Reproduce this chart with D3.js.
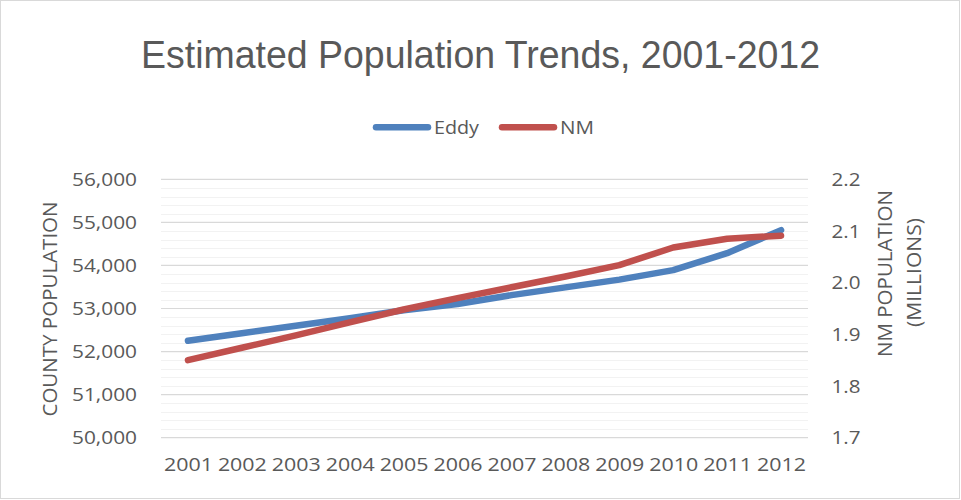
<!DOCTYPE html>
<html><head><meta charset="utf-8">
<script src="https://cdn.jsdelivr.net/npm/d3@7"></script>
<style>body{margin:0;background:#fff;} text{font-family:"Open Sans",sans-serif;fill:#595959;}</style>
</head><body>
<svg id="c" width="961" height="500"></svg>
<script>
const years = ["2001","2002","2003","2004","2005","2006","2007","2008","2009","2010","2011","2012"];
const eddy = [52250, 52425, 52600, 52775, 52960, 53105, 53310, 53490, 53670, 53890, 54285, 54820];
const nm = [1.850, 1.874, 1.898, 1.923, 1.948, 1.970, 1.991, 2.012, 2.034, 2.068, 2.085, 2.091];
const leftTicks = [50000, 51000, 52000, 53000, 54000, 55000, 56000];
const rightTicks = [1.7, 1.8, 1.9, 2.0, 2.1, 2.2];
const seriesNames = ["Eddy", "NM"];
const colors = ["#4f81bd", "#c0504d"];

const svg = d3.select("#c");
svg.append("rect").attr("x",0.5).attr("y",0.5).attr("width",959).attr("height",498)
  .attr("fill","#fff").attr("stroke","#d9d9d9");

const L = 161, R = 808, T = 179.3, B = 437.7;
const x = d3.scalePoint().domain(years).range([L, R]).padding(0.5);
const yL = d3.scaleLinear().domain([50000, 56000]).range([B, T]);
const yR = d3.scaleLinear().domain([1.7, 2.2]).range([B, T]);

function fit(sel, perChar) {
  sel.each(function() {
    const t = d3.select(this);
    const n = t.text().length;
    t.attr("textLength", perChar(t.text())).attr("lengthAdjust", "spacingAndGlyphs");
  });
}

// minor gridlines
const minor = d3.range(50000, 56001, 200).filter(v => v % 1000 !== 0);
svg.append("g").selectAll("line").data(minor).join("line")
  .attr("x1", L).attr("x2", R).attr("y1", d => Math.round(yL(d))+0.5).attr("y2", d => Math.round(yL(d))+0.5)
  .attr("stroke", "#f2f2f2").attr("stroke-width", 1);
svg.append("g").selectAll("line").data(leftTicks).join("line")
  .attr("x1", L).attr("x2", R).attr("y1", d => yL(d)).attr("y2", d => yL(d))
  .attr("stroke", "#d9d9d9").attr("stroke-width", 1.2);

// axes
const axL = svg.append("g").attr("transform", `translate(${L},0)`)
  .call(d3.axisLeft(yL).tickValues(leftTicks).tickFormat(d3.format(",")).tickSize(0).tickPadding(24));
const axR = svg.append("g").attr("transform", `translate(${R},0)`)
  .call(d3.axisRight(yR).tickValues(rightTicks).tickFormat(d3.format(".1f")).tickSize(0).tickPadding(23.5));
const axB = svg.append("g").attr("transform", `translate(0,${B})`)
  .call(d3.axisBottom(x).tickSize(0).tickPadding(20));
[axL, axR, axB].forEach(a => {
  a.select(".domain").remove();
  a.selectAll("text").style("font-size", "19px").attr("fill", "#595959").style("font-family","'Open Sans'");
});
axL.selectAll("text").call(fit, s => 65);
axR.selectAll("text").call(fit, s => 29);
axB.selectAll("text").call(fit, s => 49);

// lines
const lineL = d3.line().x((d,i) => x(years[i])).y(d => yL(d));
const lineR = d3.line().x((d,i) => x(years[i])).y(d => yR(d));
svg.append("path").datum(eddy).attr("d", lineL).attr("fill","none")
  .attr("stroke", colors[0]).attr("stroke-width", 6.5).attr("stroke-linecap","round").attr("stroke-linejoin","round");
svg.append("path").datum(nm).attr("d", lineR).attr("fill","none")
  .attr("stroke", colors[1]).attr("stroke-width", 6.5).attr("stroke-linecap","round").attr("stroke-linejoin","round");

// title
svg.append("text").attr("x", 480.5).attr("y", 67.5).attr("text-anchor","middle")
  .style("font-family","'Liberation Sans',Arial,sans-serif")
  .style("font-size","38px").attr("textLength", 679).attr("lengthAdjust","spacingAndGlyphs")
  .text("Estimated Population Trends, 2001-2012");

// legend
const lg = [{n:seriesNames[0], c:colors[0], x1:373, w:45},{n:seriesNames[1], c:colors[1], x1:499, w:34}];
lg.forEach(d => {
  svg.append("line").attr("x1", d.x1+3).attr("x2", d.x1+55).attr("y1",127.3).attr("y2",127.3)
    .attr("stroke", d.c).attr("stroke-width",6.5).attr("stroke-linecap","round");
  svg.append("text").attr("x", d.x1+61).attr("y", 134.3).style("font-size","19px")
    .attr("textLength", d.w).attr("lengthAdjust","spacingAndGlyphs").text(d.n);
});

// axis titles
svg.append("text").attr("transform","translate(56.5,309) rotate(-90)").attr("text-anchor","middle")
  .style("font-size","20px").attr("textLength",215).attr("lengthAdjust","spacingAndGlyphs").text("COUNTY POPULATION");
svg.append("text").attr("transform","translate(891.5,273.5) rotate(-90)").attr("text-anchor","middle")
  .style("font-size","20px").attr("textLength",167).attr("lengthAdjust","spacingAndGlyphs").text("NM POPULATION");
svg.append("text").attr("transform","translate(921,272.5) rotate(-90)").attr("text-anchor","middle")
  .style("font-size","20px").attr("textLength",109).attr("lengthAdjust","spacingAndGlyphs").text("(MILLIONS)");
</script>
</body></html>
